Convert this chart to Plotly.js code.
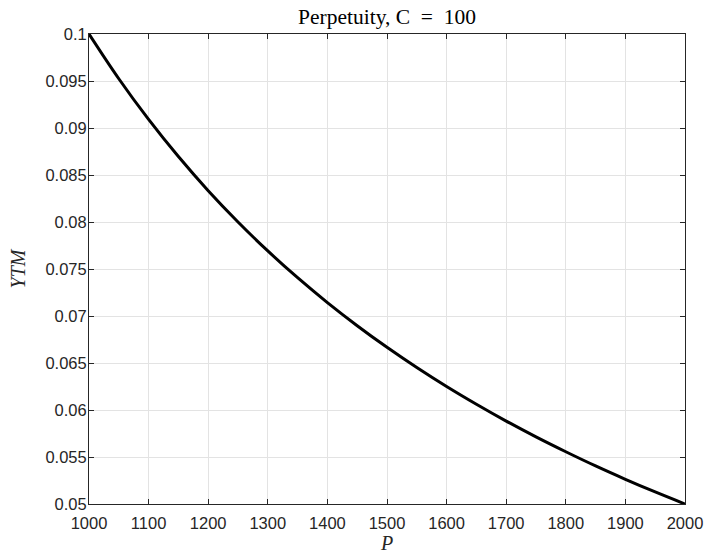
<!DOCTYPE html>
<html><head><meta charset="utf-8">
<script src="https://cdn.plot.ly/plotly-3.0.1.min.js"></script>
<style>html,body{margin:0;padding:0;background:#fff;}#chart{width:707px;height:555px;}</style>
</head><body><div id="chart"></div>
<script>
const priceP = [1000,1050,1100,1150,1200,1250,1300,1350,1400,1450,1500,1550,1600,1650,1700,1750,1800,1850,1900,1950,2000];
const ytm = [0.1,0.09524,0.09091,0.08696,0.08333,0.08,0.07692,0.07407,0.07143,0.06897,0.06667,0.06452,0.0625,0.06061,0.05882,0.05714,0.05556,0.05405,0.05263,0.05128,0.05];
const xTicks = [1000,1100,1200,1300,1400,1500,1600,1700,1800,1900,2000];
const yTicks = [0.05,0.055,0.06,0.065,0.07,0.075,0.08,0.085,0.09,0.095,0.1];
const yTickText = ['0.05','0.055','0.06','0.065','0.07','0.075','0.08','0.085','0.09','0.095','0.1'];

const axisCommon = {
  showline:true, linecolor:'#262626', linewidth:1, mirror:'ticks',
  ticks:'inside', ticklen:5, tickcolor:'#262626', tickwidth:1,
  showgrid:true, gridcolor:'#e3e3e3', gridwidth:1, zeroline:false,
  tickfont:{family:'Liberation Sans, Arial, sans-serif', size:16.5, color:'#262626'}
};
const layout = {
  width:707, height:555,
  margin:{l:89, r:22, t:34, b:51},
  paper_bgcolor:'#fff', plot_bgcolor:'#fff',
  showlegend:false,
  title:{text:'Perpetuity, C\u2002=\u2002100', x:0.5, xanchor:'center', xref:'paper', y:1, yref:'paper', yanchor:'bottom', pad:{b:10},
    font:{family:'Liberation Serif, serif', size:21.5, color:'#000'}},
  xaxis:Object.assign({}, axisCommon, {range:[1000,2000], tickvals:xTicks, ticktext:xTicks.map(String), ticklabelstandoff:4,
    title:{text:'<i>P</i>', standoff:0, font:{family:'Liberation Serif, serif', size:20, color:'#262626'}}}),
  yaxis:Object.assign({}, axisCommon, {range:[0.05,0.1], tickvals:yTicks, ticktext:yTickText, ticklabelstandoff:-2,
    title:{text:'<i>YTM</i>', standoff:14, font:{family:'Liberation Serif, serif', size:20, color:'#262626'}}})
};
Plotly.newPlot('chart', [{x:priceP, y:ytm, type:'scatter', mode:'lines', line:{color:'#000', width:3, shape:'spline'}, hoverinfo:'x+y'}], layout, {displayModeBar:false, staticPlot:true});
</script></body></html>
